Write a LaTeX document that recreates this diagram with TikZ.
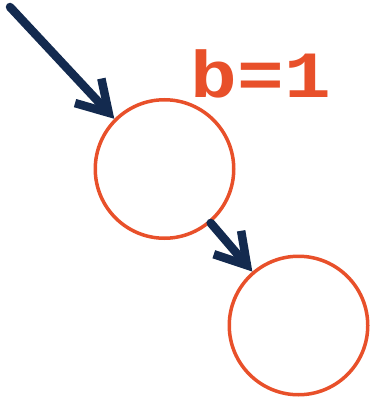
\documentclass[tikz,border=0pt]{standalone}
\usepackage{fontspec}
\newfontfamily\labelfont{Liberation Mono}
\usetikzlibrary{arrows.meta}
\usetikzlibrary{positioning}

\definecolor{vertexorange}{HTML}{E8502A}
\definecolor{edgenavy}{HTML}{132A4F}

\begin{document}
\begin{tikzpicture}[
    x=1pt, y=-1pt,
    vertex/.style={
        circle, draw=vertexorange, line width=3.5pt,
        minimum size=138.5pt, inner sep=0pt
    },
    edge/.style={
        draw=edgenavy, line width=8.5pt, line cap=round,
        -{Straight Barb[length=30pt,width=36pt]}
    },
    weight/.style={
        text=vertexorange, xscale=1.18,
        font=\labelfont\bfseries\fontsize{66}{66}\selectfont
    }
]
\useasboundingbox (0,0) rectangle (371,398);

\node[vertex] (v1) at (164.5,169) {};
\node[vertex] (v2) at (298.5,325.5) {};
\node[weight, anchor=base] (b) at (261,98) {b=1};

% incoming edge and edge to the child
\coordinate (entry) at (10,7);
\draw[edge] (entry) -- (v1.135);
\draw[edge] (v1) -- (v2);
\end{tikzpicture}
\end{document}
